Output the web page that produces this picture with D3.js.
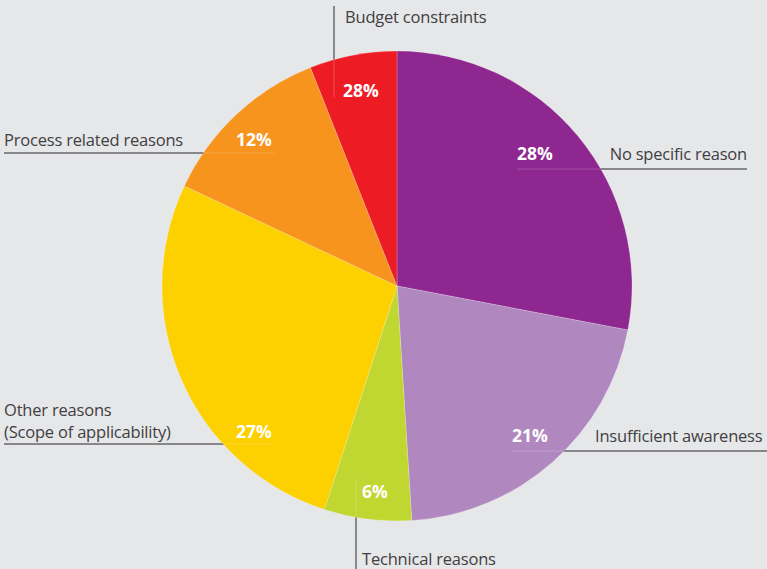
<!DOCTYPE html>
<html>
<head>
<meta charset="utf-8">
<script src="https://cdn.jsdelivr.net/npm/d3@7"></script>
<style>
  body { margin: 0; background: #e6e7e8; }
  svg { display: block; }
</style>
</head>
<body>
<div id="pie"></div>
<script>
// slice data, clockwise from 12 o'clock
const categories = ["No specific reason", "Insufficient awareness", "Technical reasons",
                    "Other reasons\n(Scope of applicability)", "Process related reasons", "Budget constraints"];
const values = [28, 21, 6, 27, 12, 6];
// labels as printed on the chart
const pctLabels = ["28%", "21%", "6%", "27%", "12%", "28%"];
const colors = ["#8e278f", "#b088bf", "#bfd730", "#fdd000", "#f7941d", "#ed1c24"];

const width = 767, height = 569;
const cx = 397, cy = 286, radius = 235;

const svg = d3.select("#pie")
    .append("svg")
    .attr("width", width)
    .attr("height", height);

svg.append("rect").attr("width", width).attr("height", height).attr("fill", "#e6e7e8");

// leader lines and where the texts sit
const leaders = [
    {line: [517, 169, 747, 169], text: [747, 160, "end"], pct: [517, 160]},
    {line: [512, 451, 767, 451], text: [595, 442, "start"], pct: [512, 442]},
    {line: [356, 478, 356, 569], text: [362, 565, "start"], pct: [362, 498]},
    {line: [4, 444, 274, 444], text: [4, 438, "start"], pct: [236, 438]},
    {line: [4, 153, 274, 153], text: [4, 146, "start"], pct: [236, 146]},
    {line: [334, 6, 334, 97], text: [345, 23, "start"], pct: [343, 97]}
];

// lines beneath the pie
svg.selectAll(".leader")
    .data(leaders)
    .join("line")
    .attr("x1", d => d.line[0]).attr("y1", d => d.line[1])
    .attr("x2", d => d.line[2]).attr("y2", d => d.line[3])
    .attr("stroke", "#58595b")
    .attr("stroke-width", 1.5);

const pie = d3.pie().value(d => d).sort(null);
const arc = d3.arc().innerRadius(0).outerRadius(radius);

const pg = svg.append("g").attr("transform", `translate(${cx},${cy})`);
pg.selectAll("path")
    .data(pie(values))
    .join("path")
    .attr("d", arc)
    .attr("fill", (d, i) => colors[i])
    .attr("stroke", "rgba(255,255,255,0.35)")
    .attr("stroke-width", 0.6);

// faint part of leader lines over the pie
svg.selectAll(".faint")
    .data(leaders)
    .join("line")
    .attr("x1", d => d.line[0]).attr("y1", d => d.line[1])
    .attr("x2", d => d.line[2]).attr("y2", d => d.line[3])
    .attr("stroke", "rgba(255,255,255,0.18)")
    .attr("stroke-width", 1.2);

// category names
leaders.forEach(function (d, i) {
    const lines = categories[i].split("\n");
    const t = svg.append("text")
        .attr("x", d.text[0])
        .attr("y", d.text[1] - (lines.length - 1) * 22)
        .attr("text-anchor", d.text[2])
        .attr("font-family", "'Open Sans', sans-serif")
        .attr("font-size", 16.5)
        .attr("letter-spacing", -0.2)
        .attr("fill", "#414042");
    lines.forEach(function (s, j) {
        t.append("tspan").attr("x", d.text[0]).attr("dy", j ? 22 : 0).text(s);
    });
});

// percentages
svg.selectAll(".pct")
    .data(leaders)
    .join("text")
    .attr("x", d => d.pct[0])
    .attr("y", d => d.pct[1])
    .attr("font-family", "'Open Sans', sans-serif")
    .attr("font-weight", "bold")
    .attr("font-size", 17.5)
    .attr("fill", "#ffffff")
    .text((d, i) => pctLabels[i]);
</script>
</body>
</html>
